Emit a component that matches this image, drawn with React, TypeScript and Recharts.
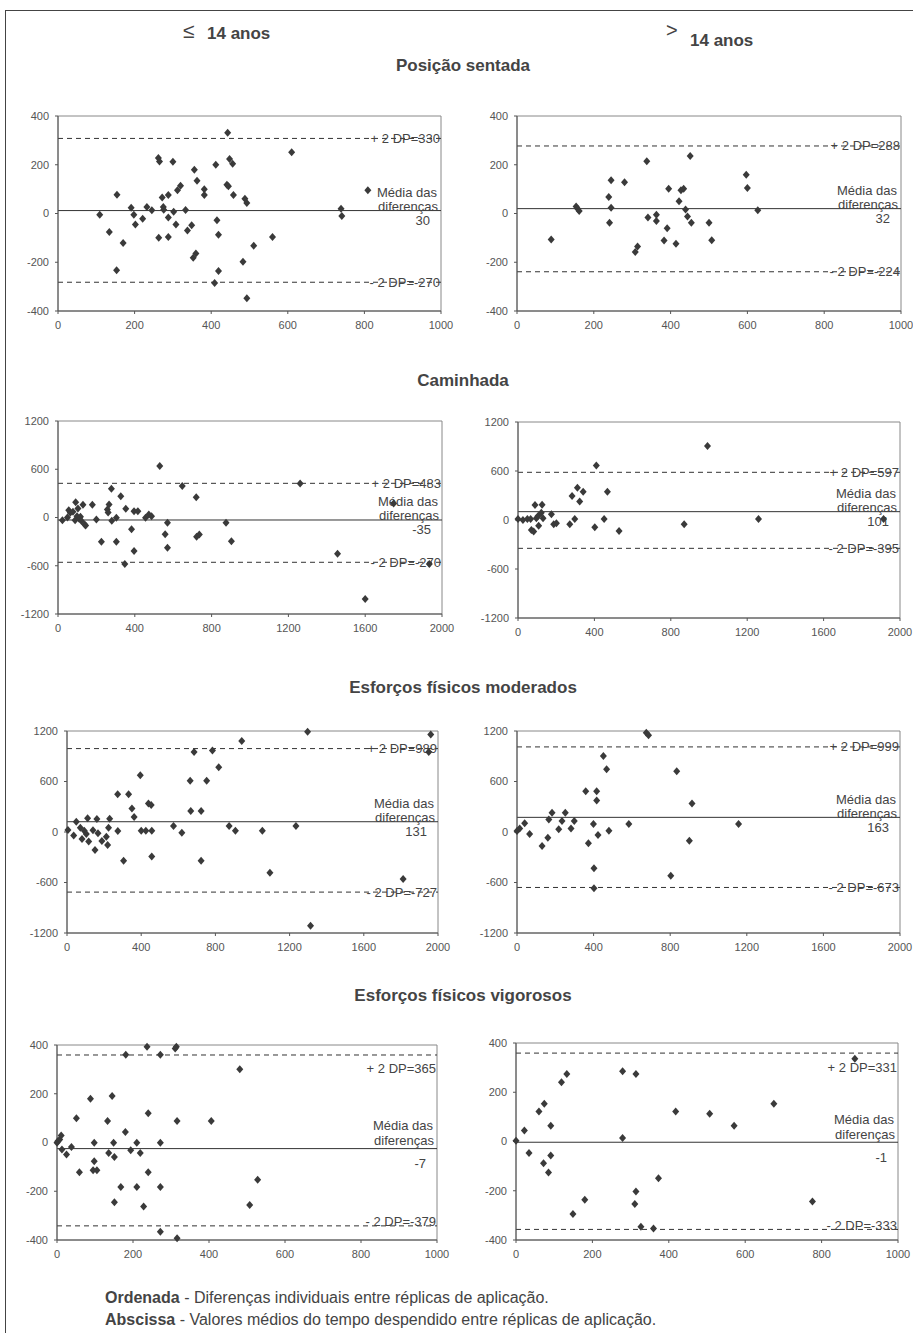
import {
  ScatterChart,
  Scatter,
  XAxis,
  YAxis,
  ReferenceLine,
  ReferenceArea,
} from "recharts";

// tick values
const xTicksShort = [0, 200, 400, 600, 800, 1000];
const xTicksLong = [0, 400, 800, 1200, 1600, 2000];
const yTicksSmall = [-400, -200, 0, 200, 400];
const yTicksLarge = [-1200, -600, 0, 600, 1200];

// Posição sentada
const sentadaAte14: [number, number][] = [
  [109, -5], [134, -76], [154, 77], [153, -233], [170, -121], [191, 24], [198, -5], [202, -45],
  [221, -22], [232, 27], [245, 13], [263, -99], [262, 228], [265, 213], [272, 66], [275, 27],
  [276, 15], [288, 76], [288, -16], [288, -96], [300, 212], [302, 7], [308, -45], [312, 95],
  [320, 114], [333, 14], [338, -70], [349, -48], [353, -182], [356, 180], [360, -164], [363, 134],
  [382, 100], [382, 76], [409, -285], [412, 200], [415, -28], [419, -87], [419, -236], [441, 118],
  [445, 112], [443, 331], [448, 224], [456, 204], [458, 76], [483, -198], [488, 61], [493, 43],
  [493, -348], [511, -132], [560, -96], [610, 251], [739, 20], [741, -10], [809, 95],
];
const sentadaMais14: [number, number][] = [
  [89, -107], [154, 29], [158, 20], [162, 10], [239, 68], [245, 136], [245, 24], [241, -38],
  [280, 128], [338, 214], [341, -16], [363, -5], [363, -31], [314, -135], [308, -158], [395, 102],
  [391, -61], [383, -111], [414, -124], [422, 50], [427, 95], [434, 102], [439, 16], [444, -12],
  [454, -38], [451, 236], [500, -38], [507, -110], [597, 159], [600, 105], [627, 13],
];

// Caminhada
const caminhadaAte14: [number, number][] = [
  [23, -33], [49, 0], [56, 91], [64, 58], [78, 70], [89, -33], [92, 190], [99, 17], [104, 112],
  [110, -17], [117, 8], [122, -45], [130, 157], [139, -87], [144, -99], [179, 157], [200, -25],
  [226, -302], [257, 99], [261, 62], [266, 161], [278, 356], [280, -41], [304, -4], [304, -302],
  [327, 265], [348, -579], [353, 108], [383, -145], [396, -418], [396, 79], [416, 79], [456, -4],
  [473, 37], [487, 17], [530, 641], [558, -207], [570, -66], [570, -377], [647, 393], [720, 252],
  [722, -240], [736, -211], [875, -66], [903, -294], [1261, 422], [1456, -451], [1600, -1014],
  [1748, 174], [1934, -579],
];
const caminhadaMais14: [number, number][] = [
  [0, 12], [26, 0], [49, 12], [66, 12], [70, -122], [82, -142], [89, 183], [96, 20], [105, 49],
  [108, -69], [126, 187], [122, 89], [131, 20], [175, 69], [187, -53], [201, -41], [271, -53],
  [283, 293], [297, 12], [311, 395], [323, 228], [341, 346], [402, -89], [410, 667], [451, 12],
  [468, 346], [529, -134], [870, -53], [992, 907], [1259, 12], [1914, 12],
];

// Esforços físicos moderados
const moderadosAte14: [number, number][] = [
  [5, 24], [36, -43], [50, 122], [72, 51], [81, -83], [93, 16], [104, -24], [111, 162], [117, -114],
  [140, 20], [151, -213], [161, 154], [167, -16], [188, -107], [212, -55], [219, -154], [224, 51],
  [230, 158], [273, 450], [274, 12], [305, -343], [332, 450], [350, 280], [362, 179], [395, 675],
  [400, 16], [425, 16], [439, 339], [454, 320], [457, -292], [457, 16], [574, 71], [619, -8],
  [664, 608], [667, 249], [685, 951], [723, 249], [723, -343], [753, 608], [784, 967], [818, 770],
  [874, 71], [908, 16], [942, 1081], [1053, 16], [1094, -485], [1234, 71], [1297, 1190],
  [1313, -1113], [1812, -557], [1961, 1157], [1950, 951],
];
const moderadosMais14: [number, number][] = [
  [0, 12], [14, 43], [40, 103], [66, -24], [131, -166], [161, -67], [166, 150], [183, 229],
  [218, 32], [235, 130], [252, 229], [282, 43], [299, 130], [359, 485], [373, -134], [399, 95],
  [402, -430], [402, -667], [416, 485], [416, 375], [423, -36], [451, 904], [468, 746], [480, 16],
  [584, 95], [675, 1180], [687, 1149], [803, -521], [834, 722], [900, -103], [914, 339], [1157, 95],
];

// Esforços físicos vigorosos
const vigorososAte14: [number, number][] = [
  [0, -1], [2, 5], [7, 12], [11, 29], [13, -29], [25, -49], [38, -18], [51, 99], [59, -122],
  [88, 180], [98, -1], [95, -114], [105, -114], [98, -77], [133, 88], [136, -43], [145, 191],
  [149, -1], [151, -59], [151, -245], [168, -183], [180, 43], [181, 360], [194, -32], [210, -1],
  [210, -183], [219, -43], [228, -263], [237, 393], [240, 120], [240, -122], [272, 360], [272, -1],
  [272, -183], [272, -366], [311, 386], [314, 393], [316, 88], [316, -393], [406, 88], [481, 301],
  [507, -256], [528, -153],
];
const vigorososMais14: [number, number][] = [
  [0, 3], [22, 45], [34, -47], [60, 122], [72, -88], [74, 153], [85, -126], [91, -57], [91, 64],
  [119, 241], [133, 274], [149, -294], [180, -237], [279, 14], [279, 285], [311, -254], [314, 274],
  [314, -203], [327, -346], [360, -353], [373, -149], [418, 122], [507, 113], [571, 64], [675, 153],
  [776, -244], [887, 336],
];

// reference lines [upper, mean, lower] and their texts
const sentadaAte14Lines = [308, 12, -282];
const sentadaAte14Texts = ["+ 2 DP=330", "30", "- 2 DP=-270"];
const sentadaMais14Lines = [277, 20, -239];
const sentadaMais14Texts = ["+ 2 DP=288", "32", "- 2 DP=-224"];
const caminhadaAte14Lines = [425, -31, -557];
const caminhadaAte14Texts = ["+ 2 DP=483", "-35", "- 2 DP=-270"];
const caminhadaMais14Lines = [584, 102, -347];
const caminhadaMais14Texts = ["+ 2 DP=597", "101", "- 2 DP=-395"];
const moderadosAte14Lines = [991, 122, -714];
const moderadosAte14Texts = ["+ 2 DP=989", "131", "- 2 DP=-727"];
const moderadosMais14Lines = [1011, 174, -659];
const moderadosMais14Texts = ["+ 2 DP=999", "163", "- 2 DP=-673"];
const vigorososAte14Lines = [359, -25, -342];
const vigorososAte14Texts = ["+ 2 DP=365", "-7", "- 2 DP=-379"];
const vigorososMais14Lines = [359, -3, -357];
const vigorososMais14Texts = ["+ 2 DP=331", "-1", "- 2 DP=-333"];

const FONT = "'Liberation Sans', Arial, sans-serif";
const INK = "#333";
const TXT = "#444";

const Diamond = (props: any) => {
  const { cx, cy } = props;
  if (cx == null || cy == null) return null;
  return (
    <polygon
      points={`${cx},${cy - 4} ${cx + 3.5},${cy} ${cx},${cy + 4} ${cx - 3.5},${cy}`}
      fill="#3a3a3a"
    />
  );
};

type PanelProps = {
  box: [number, number, number, number];
  points: [number, number][];
  xTicks: number[];
  yTicks: number[];
  lines: number[];
  texts: string[];
  low?: boolean;
};

const Panel = ({ box, points, xTicks, yTicks, lines, texts, low }: PanelProps) => {
  const [left, top, right, bottom] = box;
  const padL = 55;
  const padT = 10;
  const padR = 15;
  const axisH = 30;
  const w = right - left + padL + padR;
  const h = bottom - top + padT + axisH;
  const data = points.map(([x, y]) => ({ x, y }));
  const xMax = xTicks[xTicks.length - 1];
  const yMax = yTicks[yTicks.length - 1];

  const txt = (x: number, y: number, s: string) => (
    <text x={x} y={y} textAnchor="end" fontSize={13} fill={TXT} fontFamily={FONT}>
      {s}
    </text>
  );
  const upperLabel = (p: any) => {
    const vb = p.viewBox;
    return txt(vb.x + vb.width - 1, vb.y + (low ? 18.5 : 4.5), texts[0]);
  };
  const lowerLabel = (p: any) => {
    const vb = p.viewBox;
    return txt(vb.x + vb.width - 1, vb.y + (low ? 0.5 : 4.5), texts[2]);
  };
  const meanLabel = (p: any) => {
    const vb = p.viewBox;
    const r = vb.x + vb.width;
    return (
      <g>
        {txt(r - 4, vb.y + (low ? -18.5 : -13.5), "Média das")}
        {txt(r - 3, vb.y + (low ? -3.5 : 0.5), "diferenças")}
        {txt(r - 11, vb.y + (low ? 19.5 : 14.5), texts[1])}
      </g>
    );
  };

  return (
    <div style={{ position: "absolute", left: left - padL, top: top - padT }}>
      <ScatterChart width={w} height={h} margin={{ top: padT, right: padR, bottom: 0, left: 0 }}>
        <XAxis
          type="number"
          dataKey="x"
          domain={[0, xMax]}
          ticks={xTicks}
          interval={0}
          height={axisH}
          tickSize={3}
          tickMargin={7}
          tick={{ fontSize: 11, fill: "#555", fontFamily: FONT }}
          axisLine={{ stroke: "#555" }}
          tickLine={{ stroke: "#555" }}
        />
        <YAxis
          type="number"
          dataKey="y"
          domain={[-yMax, yMax]}
          ticks={yTicks}
          interval={0}
          width={padL}
          tickSize={3}
          tickMargin={6}
          tick={{ fontSize: 11, fill: "#555", fontFamily: FONT }}
          axisLine={{ stroke: "#555" }}
          tickLine={{ stroke: "#555" }}
        />
        <ReferenceArea x1={0} x2={xMax} y1={-yMax} y2={yMax} fill="none" stroke="#888" />
        <ReferenceLine y={lines[0]} stroke={INK} strokeDasharray="5 4" label={upperLabel} />
        <ReferenceLine y={lines[1]} stroke={INK} label={meanLabel} />
        <ReferenceLine y={lines[2]} stroke={INK} strokeDasharray="5 4" label={lowerLabel} />
        <Scatter data={data} shape={Diamond} isAnimationActive={false} />
      </ScatterChart>
    </div>
  );
};

const Title = ({ y, children }: { y: number; children: any }) => (
  <div
    style={{
      position: "absolute",
      left: 0,
      width: 926,
      top: y - 10,
      lineHeight: "20px",
      textAlign: "center",
      fontSize: 17,
      fontWeight: "bold",
      color: TXT,
    }}
  >
    {children}
  </div>
);

export default function App() {
  return (
    <div
      style={{
        position: "absolute",
        left: 0,
        top: 0,
        width: 913,
        height: 1333,
        overflow: "hidden",
        background: "#fff",
        fontFamily: FONT,
      }}
    >
      <div
        style={{
          position: "absolute",
          left: 5,
          top: 10,
          width: 940,
          height: 1360,
          borderLeft: "1px solid #444",
          borderTop: "1px solid #444",
        }}
      />
      <div style={{ position: "absolute", left: 183, top: 19, fontSize: 21, lineHeight: "24px", color: TXT }}>≤</div>
      <div style={{ position: "absolute", left: 207, top: 24, fontSize: 17, fontWeight: "bold", color: TXT, lineHeight: "20px" }}>
        14 anos
      </div>
      <div style={{ position: "absolute", left: 666, top: 18, fontSize: 20, lineHeight: "24px", color: TXT }}>&gt;</div>
      <div style={{ position: "absolute", left: 690, top: 31, fontSize: 17, fontWeight: "bold", color: TXT, lineHeight: "20px" }}>
        14 anos
      </div>

      <Title y={66}>Posição sentada</Title>
      <Panel box={[58, 116, 441, 311]} points={sentadaAte14} xTicks={xTicksShort} yTicks={yTicksSmall} lines={sentadaAte14Lines} texts={sentadaAte14Texts} />
      <Panel box={[517, 116, 901, 311]} points={sentadaMais14} xTicks={xTicksShort} yTicks={yTicksSmall} lines={sentadaMais14Lines} texts={sentadaMais14Texts} />

      <Title y={381}>Caminhada</Title>
      <Panel box={[58, 421, 442, 614]} points={caminhadaAte14} xTicks={xTicksLong} yTicks={yTicksLarge} lines={caminhadaAte14Lines} texts={caminhadaAte14Texts} />
      <Panel box={[518, 422, 900, 618]} points={caminhadaMais14} xTicks={xTicksLong} yTicks={yTicksLarge} lines={caminhadaMais14Lines} texts={caminhadaMais14Texts} />

      <Title y={688}>Esforços físicos moderados</Title>
      <Panel box={[67, 731, 438, 933]} points={moderadosAte14} xTicks={xTicksLong} yTicks={yTicksLarge} lines={moderadosAte14Lines} texts={moderadosAte14Texts} />
      <Panel box={[517, 731, 900, 933]} points={moderadosMais14} xTicks={xTicksLong} yTicks={yTicksLarge} lines={moderadosMais14Lines} texts={moderadosMais14Texts} />

      <Title y={996}>Esforços físicos vigorosos</Title>
      <Panel box={[57, 1045, 437, 1240]} points={vigorososAte14} xTicks={xTicksShort} yTicks={yTicksSmall} lines={vigorososAte14Lines} texts={vigorososAte14Texts} low />
      <Panel box={[516, 1043, 898, 1240]} points={vigorososMais14} xTicks={xTicksShort} yTicks={yTicksSmall} lines={vigorososMais14Lines} texts={vigorososMais14Texts} low />

      <div style={{ position: "absolute", left: 105, top: 1287, fontSize: 16, lineHeight: "22px", color: TXT }}>
        <div>
          <b>Ordenada</b> - Diferenças individuais entre réplicas de aplicação.
        </div>
        <div>
          <b>Abscissa</b> - Valores médios do tempo despendido entre réplicas de aplicação.
        </div>
      </div>
    </div>
  );
}
